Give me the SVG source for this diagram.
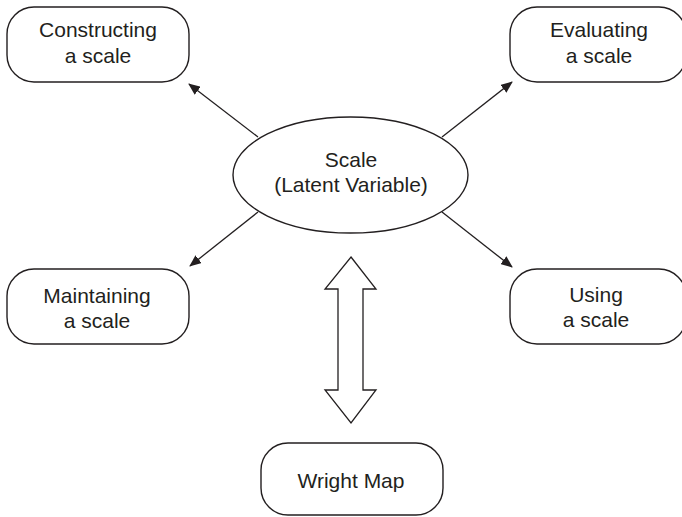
<svg xmlns="http://www.w3.org/2000/svg" width="682" height="517" viewBox="0 0 682 517">
<style>
.box{fill:#fff;stroke:#231f20;stroke-width:1.4}
.t{font-family:"Liberation Sans",Arial,sans-serif;font-size:21px;fill:#231f20;text-anchor:middle}
.c{stroke:#231f20;stroke-width:1.3;fill:none;marker-end:url(#ah)}
</style>
<defs>
<marker id="ah" viewBox="0 0 12 10" refX="11" refY="5" markerWidth="12" markerHeight="10" markerUnits="userSpaceOnUse" orient="auto">
<path d="M0,0 L12,5 L0,10 Z" fill="#231f20"/>
</marker>
</defs>
<rect width="682" height="517" fill="#fff"/>
<g id="connectors">
<line class="c" x1="258" y1="137" x2="189" y2="84"/>
<line class="c" x1="442" y1="137" x2="512" y2="82"/>
<line class="c" x1="258" y1="212" x2="190" y2="266"/>
<line class="c" x1="442" y1="212" x2="512" y2="267"/>
<polygon id="double-arrow" points="351,257 376,289 363,289 363,390 376,390 351,423 325,390 338,390 338,289 325,289" fill="#fff" stroke="#231f20" stroke-width="1.3"/>
</g>
<g id="scale">
<ellipse class="box" cx="350.5" cy="175" rx="117.5" ry="58"/>
<text class="t" x="351" y="167">Scale</text>
<text class="t" x="351" y="192">(Latent Variable)</text>
</g>
<g id="constructing">
<rect class="box" x="7" y="7" width="182" height="75" rx="27" ry="27"/>
<text class="t" x="98" y="37">Constructing</text>
<text class="t" x="98" y="63">a scale</text>
</g>
<g id="evaluating">
<rect class="box" x="510" y="7" width="176" height="75" rx="27" ry="27"/>
<text class="t" x="599" y="37">Evaluating</text>
<text class="t" x="599" y="63">a scale</text>
</g>
<g id="maintaining">
<rect class="box" x="7" y="269" width="182" height="75" rx="27" ry="27"/>
<text class="t" x="97" y="303">Maintaining</text>
<text class="t" x="97" y="328">a scale</text>
</g>
<g id="using">
<rect class="box" x="510" y="269" width="176" height="75" rx="27" ry="27"/>
<text class="t" x="596" y="302">Using</text>
<text class="t" x="596" y="327">a scale</text>
</g>
<g id="wright-map">
<rect class="box" x="261" y="443" width="182" height="72" rx="27" ry="27"/>
<text class="t" x="351" y="488">Wright Map</text>
</g>
</svg>
